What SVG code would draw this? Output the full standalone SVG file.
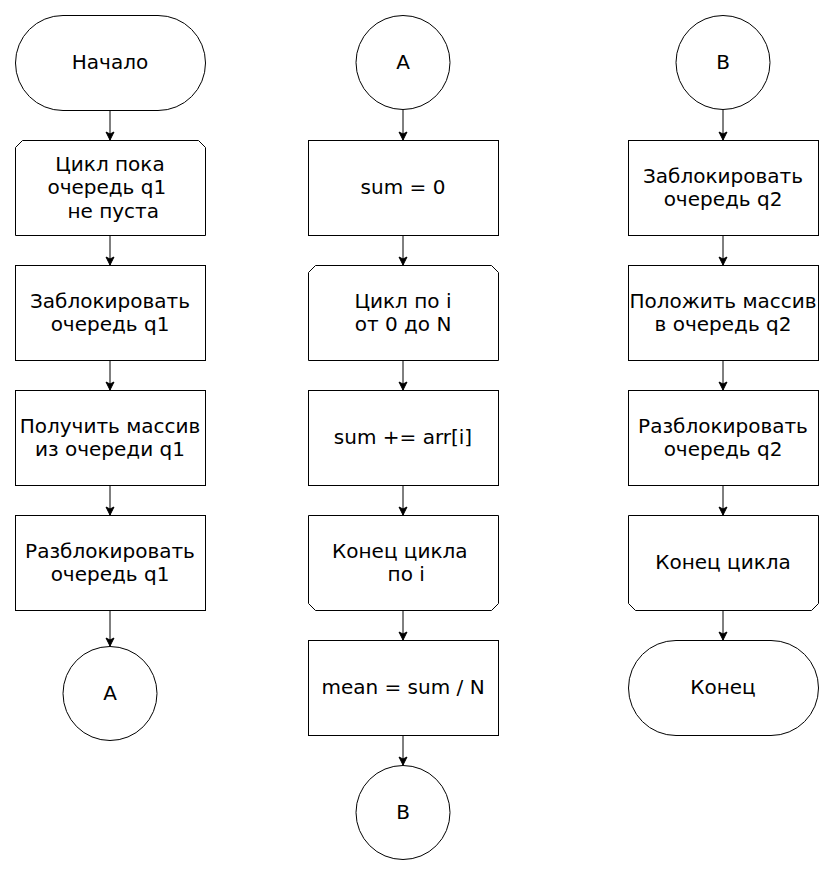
<svg xmlns="http://www.w3.org/2000/svg" width="833" height="875" viewBox="0 0 833 875">
<style>
.s{fill:#fff;stroke:#000;stroke-width:1}
.t{font-family:"DejaVu Sans",sans-serif;font-size:20px;fill:#000;text-anchor:middle;dominant-baseline:central}
.c{stroke:#000;stroke-width:1;fill:none;marker-end:url(#a)}
</style>
<defs>
<marker id="a" markerWidth="10" markerHeight="10" refX="9" refY="5" orient="auto" markerUnits="userSpaceOnUse">
<path d="M1,1 L9,5 L1,9 L3,5 Z" fill="#000" stroke="#000" stroke-width="1"/>
</marker>
</defs>
<rect width="833" height="875" fill="#fff"/>
<g id="connectors">
<path class="c" d="M110,110V140"/>
<path class="c" d="M110,235V265"/>
<path class="c" d="M110,360V390"/>
<path class="c" d="M110,485V515"/>
<path class="c" d="M110,610V646"/>
<path class="c" d="M403,110V140"/>
<path class="c" d="M403,235V265"/>
<path class="c" d="M403,360V390"/>
<path class="c" d="M403,485V515"/>
<path class="c" d="M403,610V640"/>
<path class="c" d="M403,735V765"/>
<path class="c" d="M723,110V140"/>
<path class="c" d="M723,235V265"/>
<path class="c" d="M723,360V390"/>
<path class="c" d="M723,485V515"/>
<path class="c" d="M723,610V640"/>
</g>
<g id="start"><rect class="s" x="15.5" y="15.5" width="190" height="95" rx="47.5"/><text class="t" x="110" y="62">Начало</text></g>
<g id="loop1"><path class="s" d="M22.5,140.5H198.5L205.5,147.5V235.5H15.5V147.5Z"/><text class="t" x="110" xml:space="preserve"><tspan x="110" y="164">Цикл пока</tspan><tspan x="110" y="187">очередь q1 </tspan><tspan x="110" y="211"> не пуста</tspan></text></g>
<g id="lock1"><rect class="s" x="15.5" y="265.5" width="190" height="95"/><text class="t"><tspan x="110" y="301">Заблокировать</tspan><tspan x="110" y="324">очередь q1</tspan></text></g>
<g id="get1"><rect class="s" x="15.5" y="390.5" width="190" height="95"/><text class="t"><tspan x="110" y="426">Получить массив</tspan><tspan x="110" y="449">из очереди q1</tspan></text></g>
<g id="unlock1"><rect class="s" x="15.5" y="515.5" width="190" height="95"/><text class="t"><tspan x="110" y="551">Разблокировать</tspan><tspan x="110" y="574">очередь q1</tspan></text></g>
<g id="connA1"><circle class="s" cx="110" cy="693.5" r="47"/><text class="t" x="110" y="693">A</text></g>
<g id="connA2"><circle class="s" cx="403" cy="62.5" r="47"/><text class="t" x="403" y="62">A</text></g>
<g id="sum0"><rect class="s" x="308.5" y="140.5" width="190" height="95"/><text class="t" x="403" y="187">sum = 0</text></g>
<g id="loop2"><path class="s" d="M315.5,265.5H491.5L498.5,272.5V360.5H308.5V272.5Z"/><text class="t"><tspan x="403" y="301">Цикл по i</tspan><tspan x="403" y="324">от 0 до N</tspan></text></g>
<g id="sumadd"><rect class="s" x="308.5" y="390.5" width="190" height="95"/><text class="t" x="403" y="437">sum += arr[i]</text></g>
<g id="loopend2"><path class="s" d="M308.5,515.5H498.5V603.5L491.5,610.5H315.5L308.5,603.5Z"/><text class="t" xml:space="preserve"><tspan x="403" y="551">Конец цикла </tspan><tspan x="403" y="574"> по i</tspan></text></g>
<g id="mean"><rect class="s" x="308.5" y="640.5" width="190" height="95"/><text class="t" x="403" y="687">mean = sum / N</text></g>
<g id="connB1"><circle class="s" cx="403" cy="812.5" r="47"/><text class="t" x="403" y="812">B</text></g>
<g id="connB2"><circle class="s" cx="723" cy="62.5" r="47"/><text class="t" x="723" y="62">B</text></g>
<g id="lock2"><rect class="s" x="628.5" y="140.5" width="190" height="95"/><text class="t"><tspan x="723" y="176">Заблокировать</tspan><tspan x="723" y="199">очередь q2</tspan></text></g>
<g id="put2"><rect class="s" x="628.5" y="265.5" width="190" height="95"/><text class="t"><tspan x="723" y="301">Положить массив</tspan><tspan x="723" y="324">в очередь q2</tspan></text></g>
<g id="unlock2"><rect class="s" x="628.5" y="390.5" width="190" height="95"/><text class="t"><tspan x="723" y="426">Разблокировать</tspan><tspan x="723" y="449">очередь q2</tspan></text></g>
<g id="loopend3"><path class="s" d="M628.5,515.5H818.5V603.5L811.5,610.5H635.5L628.5,603.5Z"/><text class="t" x="723" y="562">Конец цикла</text></g>
<g id="end"><rect class="s" x="628.5" y="640.5" width="190" height="95" rx="47.5"/><text class="t" x="723" y="687">Конец</text></g>
</svg>
